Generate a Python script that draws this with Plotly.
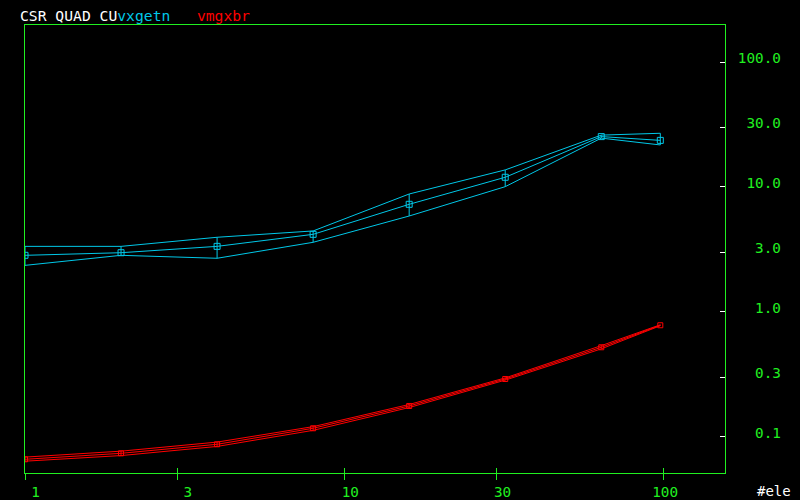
import math
import plotly.graph_objects as go

# ---- data ----
x_pts = [1, 2, 4, 8, 16, 32, 64, 98]

cyan_mean = [2.84, 2.98, 3.35, 4.18, 7.27, 11.96, 25.3, 23.6]
cyan_upper = [3.35, 3.35, 3.96, 4.45, 8.79, 13.7, 26.0, 26.9]
cyan_lower = [2.36, 2.84, 2.69, 3.61, 5.86, 10.06, 24.6, 21.7]

red_mean = [0.0663, 0.074, 0.0874, 0.1174, 0.177, 0.291, 0.522, 0.783]
red_upper = [0.069, 0.077, 0.091, 0.121, 0.182, 0.297, 0.538, 0.790]
red_lower = [0.064, 0.071, 0.084, 0.113, 0.172, 0.285, 0.507, 0.776]

x_tickvals = [1, 3, 10, 30, 100]
x_ticklabels = ["1", "3", "10", "30", "100"]
y_tickvals = [0.1, 0.3, 1, 3, 10, 30, 100]
y_ticklabels = ["0.1", "0.3", "1.0", "3.0", "10.0", "30.0", "100.0"]

# ---- styling ----
CYAN = "#00c8e8"
RED = "#ff0000"
GREEN = "#20f020"
WHITE = "#ffffff"
MONO = "DejaVu Sans Mono"
NB = "\u00a0"

fig = go.Figure()


def add_series(mean, upper, lower, color, msize):
    for band in (upper, lower):
        fig.add_trace(go.Scatter(x=x_pts, y=band, mode="lines",
                                 line=dict(color=color, width=1),
                                 showlegend=False, hoverinfo="skip"))
    fig.add_trace(go.Scatter(
        x=x_pts, y=mean, mode="lines+markers",
        line=dict(color=color, width=1),
        marker=dict(symbol="square-open", size=msize, color=color, line=dict(width=1, color=color)),
        error_y=dict(type="data", symmetric=False,
                     array=[u - m for u, m in zip(upper, mean)],
                     arrayminus=[m - l for m, l in zip(mean, lower)],
                     color=color, thickness=1, width=0),
        showlegend=False))


add_series(cyan_mean, cyan_upper, cyan_lower, CYAN, 6)
add_series(red_mean, red_upper, red_lower, RED, 5)

# invisible trace to activate overlay axis (for ticks crossing the axis line)
fig.add_trace(go.Scatter(x=[x_pts[0]], y=[red_mean[0]], xaxis="x2", mode="markers",
                         marker=dict(opacity=0), showlegend=False, hoverinfo="skip"))

xmax_w = max(len(t) for t in x_ticklabels)
ymax_w = max(len(t) for t in y_ticklabels)
xr = [0, 2.194]

fig.update_layout(
    width=800, height=500, autosize=False,
    margin=dict(l=25, r=75, t=25, b=27),
    paper_bgcolor="black", plot_bgcolor="black",
    font=dict(family=MONO, color=GREEN, size=14),
    xaxis=dict(type="log", range=xr, showgrid=False, zeroline=False, automargin=False,
               showline=True, linecolor=GREEN, linewidth=1, mirror=True,
               ticks="outside", ticklen=6, tickcolor=GREEN, tickwidth=1,
               tickvals=x_tickvals,
               ticktext=[t.rjust(xmax_w, NB) for t in x_ticklabels],
               tickfont=dict(family=MONO, color=GREEN, size=14.3),
               ticklabelshift=2, ticklabelstandoff=0),
    xaxis2=dict(type="log", range=xr, overlaying="x", anchor="y", side="bottom",
                showgrid=False, zeroline=False, showline=False, automargin=False,
                ticks="inside", ticklen=5, tickcolor=GREEN, tickwidth=1,
                tickvals=x_tickvals, showticklabels=False),
    yaxis=dict(type="log", range=[math.log10(0.0515), math.log10(197.7)],
               side="right", showgrid=False, zeroline=False, automargin=False,
               showline=True, linecolor=GREEN, linewidth=1, mirror=True,
               ticks="inside", ticklen=5, tickcolor=WHITE, tickwidth=1,
               tickvals=y_tickvals,
               ticktext=[t.rjust(ymax_w, NB) for t in y_ticklabels],
               tickfont=dict(family=MONO, color=GREEN, size=14.3),
               ticklabelstandoff=9, ticklabelshift=-4),
    title=dict(
        text=("<span style='color:#ffffff'>CSR QUAD CU</span>"
              "<span style='color:%s'>vxgetn" % CYAN + NB * 3 + "</span>"
              "<span style='color:%s'>vmgxbr</span>" % RED),
        x=20 / 800, xanchor="left", xref="container",
        y=1 - 15.5 / 500, yanchor="middle", yref="container",
        font=dict(family=MONO, size=14.7, color=WHITE)),
    annotations=[dict(text="#ele", xref="paper", yref="paper",
                      x=(755 - 25) / 700, y=(473 - 491) / 448,
                      xanchor="left", yanchor="middle", showarrow=False,
                      font=dict(family=MONO, size=14, color=WHITE))],
)

fig.write_html(
    "out.html",
    config={"responsive": False, "displayModeBar": False},
    post_script="document.body.style.margin='0';document.body.style.overflow='hidden';document.body.style.background='black';",
)
